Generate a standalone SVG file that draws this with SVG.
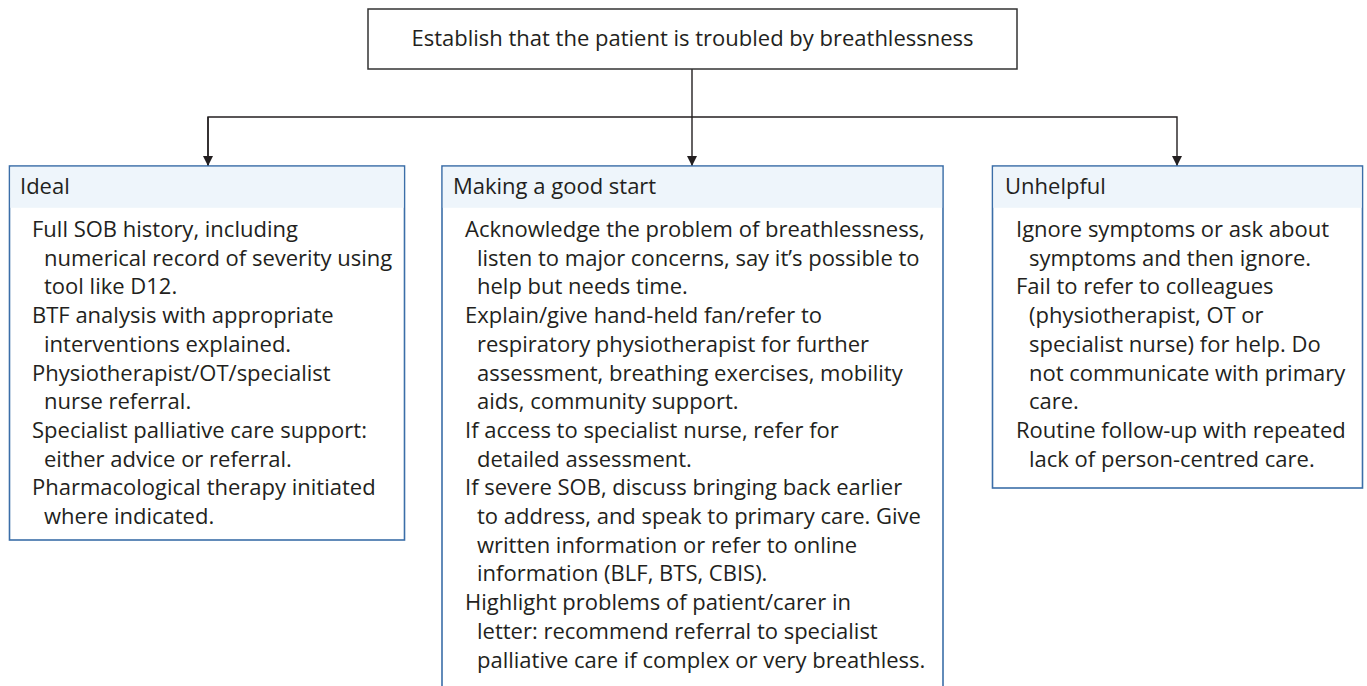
<svg xmlns="http://www.w3.org/2000/svg" width="1367" height="686" viewBox="0 0 1367 686">
<style>
.t{font-family:"Open Sans","Noto Sans","Liberation Sans",sans-serif;font-size:22px;fill:#231f20}
.top{font-size:22px}
.box{fill:#fff;stroke:#3b6ea8;stroke-width:1.6}
.hdr{fill:#eef5fb}
.line{fill:none;stroke:#231f20;stroke-width:1.4}
</style>
<defs>
<marker id="ah" viewBox="0 0 10 10" refX="10" refY="5" markerWidth="10" markerHeight="10" markerUnits="userSpaceOnUse" orient="auto">
<path d="M0,0 L10,5 L0,10 z" fill="#231f20"/>
</marker>
</defs>
<rect width="1367" height="686" fill="#fff"/>
<g id="connectors">
<line class="line" x1="692" y1="69" x2="692" y2="166" marker-end="url(#ah)"/>
<path class="line" d="M208,166 V117 H1177 V166" marker-end="url(#ah)"/>
<line class="line" x1="208" y1="117" x2="208" y2="166" marker-end="url(#ah)"/>
</g>
<g id="top">
<rect x="368" y="9" width="649" height="60" fill="#fff" stroke="#333" stroke-width="1.5"/>
<text class="t top" x="692.5" y="46" text-anchor="middle">Establish that the patient is troubled by breathlessness</text>
</g>
<g id="ideal">
<rect class="box" x="9.5" y="166" width="395" height="374"/>
<rect class="hdr" x="10.3" y="166.8" width="393.4" height="41"/>
<text class="t" x="20" y="194">Ideal</text>
<text class="t">
<tspan x="32" y="237">Full SOB history, including</tspan>
<tspan x="44" y="265.7">numerical record of severity using</tspan>
<tspan x="44" y="294.4">tool like D12.</tspan>
<tspan x="32" y="323.1">BTF analysis with appropriate</tspan>
<tspan x="44" y="351.8">interventions explained.</tspan>
<tspan x="32" y="380.5">Physiotherapist/OT/specialist</tspan>
<tspan x="44" y="409.2">nurse referral.</tspan>
<tspan x="32" y="437.9">Specialist palliative care support:</tspan>
<tspan x="44" y="466.6">either advice or referral.</tspan>
<tspan x="32" y="495.3">Pharmacological therapy initiated</tspan>
<tspan x="44" y="524">where indicated.</tspan>
</text>
</g>
<g id="making">
<rect class="box" x="442" y="166" width="501" height="530"/>
<rect class="hdr" x="442.8" y="166.8" width="499.4" height="41"/>
<text class="t" x="453" y="194">Making a good start</text>
<text class="t">
<tspan x="465" y="237">Acknowledge the problem of breathlessness,</tspan>
<tspan x="477" y="265.7">listen to major concerns, say it’s possible to</tspan>
<tspan x="477" y="294.4">help but needs time.</tspan>
<tspan x="465" y="323.1">Explain/give hand-held fan/refer to</tspan>
<tspan x="477" y="351.8">respiratory physiotherapist for further</tspan>
<tspan x="477" y="380.5">assessment, breathing exercises, mobility</tspan>
<tspan x="477" y="409.2">aids, community support.</tspan>
<tspan x="465" y="437.9">If access to specialist nurse, refer for</tspan>
<tspan x="477" y="466.6">detailed assessment.</tspan>
<tspan x="465" y="495.3">If severe SOB, discuss bringing back earlier</tspan>
<tspan x="477" y="524">to address, and speak to primary care. Give</tspan>
<tspan x="477" y="552.7">written information or refer to online</tspan>
<tspan x="477" y="581.4">information (BLF, BTS, CBIS).</tspan>
<tspan x="465" y="610.1">Highlight problems of patient/carer in</tspan>
<tspan x="477" y="638.8">letter: recommend referral to specialist</tspan>
<tspan x="477" y="667.5">palliative care if complex or very breathless.</tspan>
</text>
</g>
<g id="unhelpful">
<rect class="box" x="992.5" y="166" width="370" height="322"/>
<rect class="hdr" x="993.3" y="166.8" width="368.4" height="41"/>
<text class="t" x="1005" y="194">Unhelpful</text>
<text class="t">
<tspan x="1016" y="237">Ignore symptoms or ask about</tspan>
<tspan x="1029" y="265.7">symptoms and then ignore.</tspan>
<tspan x="1016" y="294.4">Fail to refer to colleagues</tspan>
<tspan x="1029" y="323.1">(physiotherapist, OT or</tspan>
<tspan x="1029" y="351.8">specialist nurse) for help. Do</tspan>
<tspan x="1029" y="380.5">not communicate with primary</tspan>
<tspan x="1029" y="409.2">care.</tspan>
<tspan x="1016" y="437.9">Routine follow-up with repeated</tspan>
<tspan x="1029" y="466.6">lack of person-centred care.</tspan>
</text>
</g>
</svg>
